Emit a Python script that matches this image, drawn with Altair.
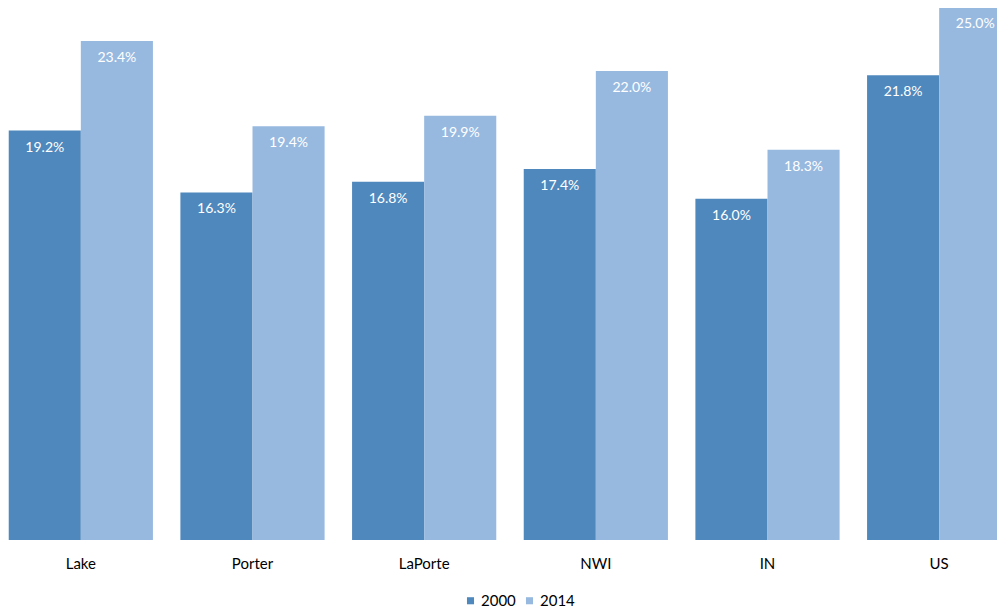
import altair as alt
import pandas as pd

categories = ["Lake", "Porter", "LaPorte", "NWI", "IN", "US"]
series = ["2000", "2014"]
values_2000 = [19.2, 16.3, 16.8, 17.4, 16.0, 21.8]
values_2014 = [23.4, 19.4, 19.9, 22.0, 18.3, 25.0]
colors = ["#4F88BC", "#97B9E0"]

rows = []
for c, a, b in zip(categories, values_2000, values_2014):
    rows.append({"cat": c, "year": "2000", "value": a})
    rows.append({"cat": c, "year": "2014", "value": b})
df = pd.DataFrame(rows)

FONT = "Lato"

x = alt.X("cat:N", sort=categories, title=None,
          scale=alt.Scale(paddingInner=0.16, paddingOuter=0.08),
          axis=alt.Axis(domain=False, ticks=False, labelAngle=0, labelFontSize=15,
                        labelColor="#000000", labelPadding=16, labelFont=FONT))
y = alt.Y("value:Q", scale=alt.Scale(domain=[0, 24.95], nice=False), axis=None)
xo = alt.XOffset("year:N", sort=series, scale=alt.Scale(paddingInner=0, paddingOuter=0))

base = alt.Chart(df).encode(x=x, xOffset=xo, y=y)

bars = base.mark_bar().encode(
    color=alt.Color("year:N", sort=series,
                    scale=alt.Scale(domain=series, range=colors),
                    legend=alt.Legend(title=None, orient="none", direction="horizontal",
                                      legendX=468, legendY=585, symbolType="square",
                                      symbolSize=50, symbolStrokeWidth=0,
                                      labelFontSize=15, labelFont=FONT,
                                      labelColor="#000000", columnPadding=6,
                                      symbolOffset=0, labelOffset=3))
)

labels = base.mark_text(color="white", fontSize=14, font=FONT, baseline="top", dy=10).transform_calculate(
    label="format(datum.value, '.1f') + '%'"
).encode(text="label:N")

chart = (bars + labels).properties(
    width=1030, height=532,
    padding={"left": -13, "top": 0, "right": -28, "bottom": 68},
    autosize=alt.AutoSizeParams(type="none"),
).configure(font=FONT).configure_view(stroke=None)

chart.save("out.html", embed_options={"renderer": "svg", "actions": False})
